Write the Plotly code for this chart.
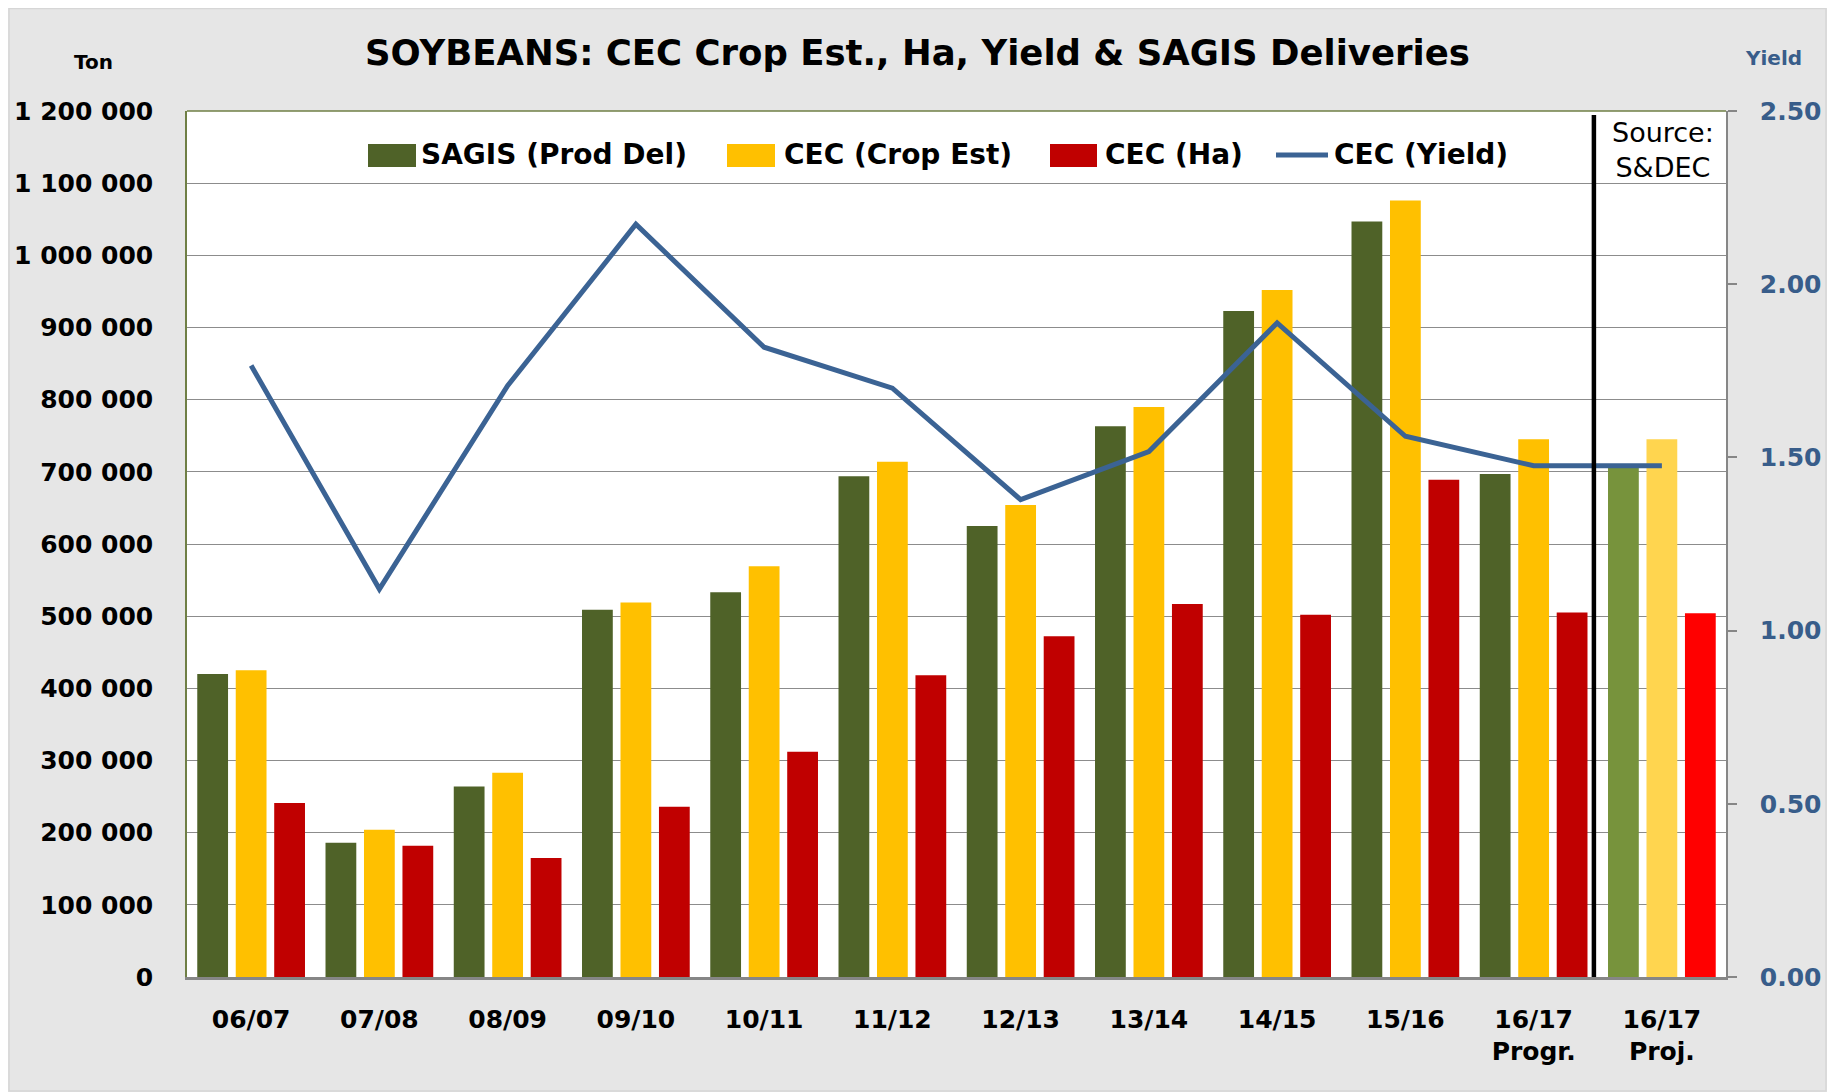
import plotly.graph_objects as go

# ---------------- data ----------------
categories = ["06/07", "07/08", "08/09", "09/10", "10/11", "11/12", "12/13",
              "13/14", "14/15", "15/16", "16/17<br>Progr.", "16/17<br>Proj."]
sagis_prod_del = [420000, 186000, 264000, 509000, 533000, 694000, 625000,
                  763000, 923000, 1047000, 697000, 706000]
cec_crop_est = [425000, 204000, 283000, 519000, 569000, 714000, 654000,
                790000, 952000, 1076000, 745000, 745000]
cec_ha = [241000, 182000, 165000, 236000, 312000, 418000, 472000,
          517000, 502000, 689000, 505000, 504000]
cec_yield = [1.765, 1.12, 1.707, 2.173, 1.818, 1.70, 1.378,
             1.517, 1.888, 1.561, 1.476, 1.476]
left_ticks = [0, 100000, 200000, 300000, 400000, 500000, 600000,
              700000, 800000, 900000, 1000000, 1100000, 1200000]
right_ticks = [0.0, 0.5, 1.0, 1.5, 2.0, 2.5]

# ---------------- styling / layout geometry ----------------
OFF = 8                      # page body margin of the html page
W, H = 1827 - OFF, 1092 - OFF
L, R, T, B = 187, 1726, 111, 977  # plot area in page pixels
GREEN, GREEN_P = "#4F6228", "#77933C"
YELLOW, YELLOW_P = "#FFC000", "#FFD54F"
RED, RED_P = "#C00000", "#FF0000"
BLUE = "#3B6394"
AXBLUE = "#385D8A"
FONT_B = "DejaVu Sans"

n = len(categories)
green_cols = [GREEN] * (n - 1) + [GREEN_P]
yellow_cols = [YELLOW] * (n - 1) + [YELLOW_P]
red_cols = [RED] * (n - 1) + [RED_P]


def px(x):
    return (x - L) / (R - L)


def py(y):
    return (B - y) / (B - T)


fig = go.Figure()
fig.add_trace(go.Bar(x=categories, y=sagis_prod_del, name="SAGIS (Prod Del)",
                     marker=dict(color=green_cols, line=dict(width=0))))
fig.add_trace(go.Bar(x=categories, y=cec_crop_est, name="CEC (Crop Est)",
                     marker=dict(color=yellow_cols, line=dict(width=0))))
fig.add_trace(go.Bar(x=categories, y=cec_ha, name="CEC (Ha)",
                     marker=dict(color=red_cols, line=dict(width=0))))
fig.add_trace(go.Scatter(x=categories, y=cec_yield, name="CEC (Yield)", yaxis="y2",
                         mode="lines", line=dict(color=BLUE, width=5)))

shapes = []
annotations = []

# light frame of the chart area
shapes.append(dict(type="rect", xref="paper", yref="paper",
                   x0=px(OFF + 1), x1=px(1826), y0=py(1091), y1=py(OFF + 0.5),
                   fillcolor="rgba(0,0,0,0)", line=dict(color="#D6D6D6", width=1.5),
                   layer="below"))

# top border of plot area
shapes.append(dict(type="line", xref="paper", yref="paper", x0=0, x1=1, y0=1, y1=1,
                   line=dict(color="#6F7F45", width=1.5)))

# separator between progress and projection
shapes.append(dict(type="line", xref="x", yref="paper", x0=10.47, x1=10.47,
                   y0=0, y1=py(115), line=dict(color="black", width=4.5)))

# manual legend
leg_y_top, leg_y_bot, leg_mid = 144, 167, 155
for (x0, x1, col) in [(368, 416, GREEN), (727, 775, YELLOW), (1050, 1097, RED)]:
    shapes.append(dict(type="rect", xref="paper", yref="paper",
                       x0=px(x0), x1=px(x1), y0=py(leg_y_bot), y1=py(leg_y_top),
                       fillcolor=col, line=dict(width=0)))
shapes.append(dict(type="line", xref="paper", yref="paper",
                   x0=px(1276), x1=px(1328), y0=py(leg_mid), y1=py(leg_mid),
                   line=dict(color=BLUE, width=5)))
for x0, txt in [(419, "SAGIS (Prod Del)"), (782, "CEC (Crop Est)"),
                (1103, "CEC (Ha)"), (1332, "CEC (Yield)")]:
    annotations.append(dict(text=txt, xref="paper", yref="paper", x=px(x0), y=py(leg_mid),
                            xanchor="left", yanchor="middle", showarrow=False,
                            font=dict(family=FONT_B, size=28, color="black", weight="bold")))

# title
annotations.append(dict(text="SOYBEANS: CEC Crop Est., Ha, Yield & SAGIS Deliveries",
                        xref="paper", yref="paper", x=px(917), y=py(52),
                        xanchor="center", yanchor="middle", showarrow=False,
                        font=dict(family=FONT_B, size=35.5, color="black", weight="bold")))
# axis titles
annotations.append(dict(text="Ton", xref="paper", yref="paper", x=px(93), y=py(62),
                        xanchor="center", yanchor="middle", showarrow=False,
                        font=dict(family=FONT_B, size=20, color="black", weight="bold")))
annotations.append(dict(text="Yield", xref="paper", yref="paper", x=px(1773), y=py(58),
                        xanchor="center", yanchor="middle", showarrow=False,
                        font=dict(family=FONT_B, size=20, color=AXBLUE, weight="bold")))
# source
annotations.append(dict(text="Source:<br>S&DEC", xref="paper", yref="paper", x=px(1663), y=py(150),
                        xanchor="center", yanchor="middle", showarrow=False,
                        font=dict(family=FONT_B, size=27, color="black")))

fig.update_layout(
    width=W, height=H,
    margin=dict(l=L - OFF, r=W - (R - OFF), t=T - OFF, b=H - (B - OFF), pad=0, autoexpand=False),
    paper_bgcolor="#E6E6E6", plot_bgcolor="white",
    separators=". ",
    barmode="group", bargap=0.1, bargroupgap=0.2,
    showlegend=False,
    font=dict(family=FONT_B, color="black"),
    xaxis=dict(type="category", showgrid=False, showline=True, linecolor="#868686", linewidth=2.5,
               ticks="", tickfont=dict(family=FONT_B, size=25, color="black", weight="bold"),
               ticklabelstandoff=18, zeroline=False, automargin=False),
    yaxis=dict(range=[0, 1200000], tickvals=left_ticks, tickformat=",d",
               showgrid=True, gridcolor="#8C8C8C", gridwidth=1.4,
               showline=True, linecolor="#6F7F45", linewidth=1.5, ticks="",
               tickfont=dict(family=FONT_B, size=25, color="black", weight="bold"),
               ticklabelstandoff=27, zeroline=False, automargin=False),
    yaxis2=dict(range=[0, 2.5], tickvals=right_ticks, tickformat=".2f", overlaying="y",
                side="right", showgrid=False, showline=True, linecolor="#868686", linewidth=1.5,
                ticks="outside", ticklen=9, tickcolor="#868686", tickwidth=1.5,
                tickfont=dict(family=FONT_B, size=25, color=AXBLUE, weight="bold"),
                ticklabelstandoff=18, zeroline=False, automargin=False),
    shapes=shapes, annotations=annotations,
)

fig.write_html("out.html")
